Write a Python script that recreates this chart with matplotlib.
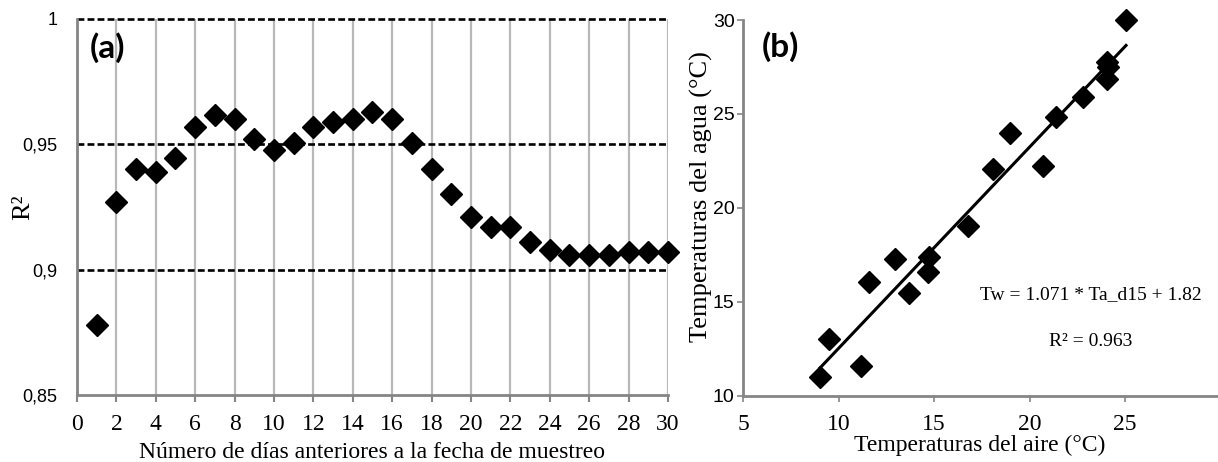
import matplotlib.pyplot as plt

# (a) R2 vs number of previous days
dias = list(range(1, 31))
r2 = [0.878, 0.927, 0.940, 0.939, 0.9445, 0.957, 0.9617, 0.960, 0.952, 0.9477,
      0.9505, 0.957, 0.959, 0.960, 0.963, 0.960, 0.9505, 0.940, 0.930, 0.921,
      0.917, 0.917, 0.911, 0.908, 0.906, 0.906, 0.906, 0.907, 0.907, 0.907]

# (b) water vs air temperature
t_aire = [25.05, 24.06, 24.1, 24.06, 22.78, 21.4, 19.0, 18.07, 20.69, 16.76,
          14.76, 12.96, 11.61, 14.70, 13.71, 9.52, 11.18, 9.03]
t_agua = [30.0, 27.78, 27.5, 26.85, 25.89, 24.86, 23.97, 22.07, 22.25, 19.04,
          17.41, 17.27, 16.08, 16.58, 15.46, 13.02, 11.58, 11.03]
pendiente = 1.071
intercepto = 1.82

gris = '#858585'
serif = 'Liberation Serif'
sans = 'Liberation Sans'

fig = plt.figure(figsize=(12.18, 4.62), dpi=100)

# ---- panel a ----
ax1 = fig.add_axes([0.0632, 0.145, 0.4852, 0.8139])
for x in range(2, 31, 2):
    ax1.axvline(x, color='#b8b8b8', lw=1.6, zorder=0)
for y in [0.9, 0.95, 1.0]:
    ax1.axhline(y, color='black', lw=1.9, ls=(0, (2.6, 1.2)), zorder=1, clip_on=False)
ax1.plot(dias, r2, 'D', color='black', ms=11, zorder=3, clip_on=False)
ax1.set_xlim(0, 30)
ax1.set_ylim(0.85, 1.0)
ax1.set_xticks(range(0, 31, 2))
ax1.set_yticks([0.85, 0.9, 0.95, 1.0])
ax1.set_yticklabels(['0,85', '0,9', '0,95', '1'], fontfamily=sans, fontsize=13)
for lbl in ax1.get_xticklabels():
    lbl.set_fontfamily(serif)
    lbl.set_fontsize(17)
ax1.tick_params(axis='y', length=0, pad=14)
ax1.tick_params(axis='x', length=5, width=1.5, color=gris, pad=9)
for s in ['top', 'right']:
    ax1.spines[s].set_visible(False)
for s in ['left', 'bottom']:
    ax1.spines[s].set_color(gris)
    ax1.spines[s].set_linewidth(2)
ax1.set_xlabel('Número de días anteriores a la fecha de muestreo',
               fontfamily=serif, fontsize=17, labelpad=5)
ax1.set_ylabel('R²', fontfamily=serif, fontsize=19)
ax1.yaxis.set_label_coords(-0.072, 0.5)
ax1.text(0.022, 0.925, '(a)', transform=ax1.transAxes, fontsize=24,
         fontweight='bold', fontfamily='Lato', va='center')

# ---- panel b ----
ax2 = fig.add_axes([0.610, 0.1429, 0.389, 0.8138])
ax2.plot(t_aire, t_agua, 'D', color='black', ms=11, zorder=3, clip_on=False)
x_fit = [min(t_aire), max(t_aire)]
ax2.plot(x_fit, [pendiente * x + intercepto for x in x_fit], color='black', lw=2.2, zorder=2)
ax2.set_xlim(5, 29.8)
ax2.set_ylim(10, 30)
ax2.set_xticks([5, 10, 15, 20, 25])
ax2.set_yticks([10, 15, 20, 25, 30])
for lbl in ax2.get_xticklabels():
    lbl.set_fontfamily(serif)
    lbl.set_fontsize(17)
for lbl in ax2.get_yticklabels():
    lbl.set_fontfamily(sans)
    lbl.set_fontsize(14)
ax2.tick_params(axis='y', length=4, width=1.2, color=gris, pad=2)
ax2.tick_params(axis='x', length=4, width=1.2, color=gris, pad=9)
for s in ['top', 'right']:
    ax2.spines[s].set_visible(False)
for s in ['left', 'bottom']:
    ax2.spines[s].set_color(gris)
    ax2.spines[s].set_linewidth(2)
ax2.set_xlabel('Temperaturas del aire (°C)', fontfamily=serif, fontsize=17, labelpad=0)
ax2.set_ylabel('Temperaturas del agua (°C)', fontfamily=serif, fontsize=19)
ax2.yaxis.set_label_coords(-0.064, 0.53)
ax2.text(0.04, 0.93, '(b)', transform=ax2.transAxes, fontsize=24,
         fontweight='bold', fontfamily='Lato', va='center')
ax2.text(23.2, 15.4, 'Tw = 1.071 * Ta_d15 + 1.82', fontfamily=serif, fontsize=14,
         ha='center', va='center')
ax2.text(23.2, 12.9, 'R² = 0.963', fontfamily=serif, fontsize=14,
         ha='center', va='center')

fig.savefig('out.png', dpi=100)
